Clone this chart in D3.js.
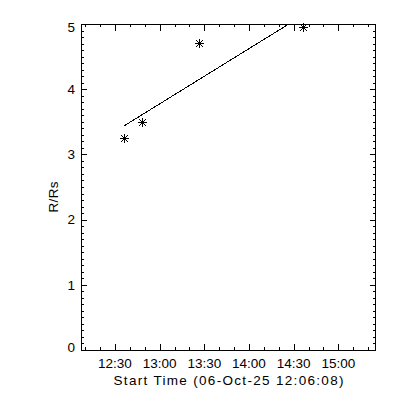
<!DOCTYPE html>
<html><head><meta charset="utf-8">
<script src="https://cdn.jsdelivr.net/npm/d3@7"></script>
<style>body{margin:0;background:#fff}svg{display:block}text{font-family:"Liberation Sans",Arial,sans-serif;fill:#000}</style>
</head><body><svg id="c" width="400" height="400"></svg>
<script>
// Data
const obsTimes = ["2025-10-06 12:36:15","2025-10-06 12:48:24","2025-10-06 13:26:42","2025-10-06 14:36:00"];
const obsR = [3.25, 3.50, 4.71, 4.95];
const fitTimes = ["2025-10-06 12:36:15","2025-10-06 14:36:00"];
const fitR = [3.44, 5.13];
const xDomain = ["2025-10-06 12:07:10","2025-10-06 15:25:20"];
const xTickLabels = ["12:30","13:00","13:30","14:00","14:30","15:00"];
const yTicks = [0,1,2,3,4,5];
const xTitle = "Start Time (06-Oct-25 12:06:08)";
const yTitle = "R/Rs";

const parse = d3.timeParse("%Y-%m-%d %H:%M:%S");
const svg = d3.select("#c");
const L=81,R=376,T=24,B=350;
const x = d3.scaleTime().domain(xDomain.map(parse)).range([L,R]);
const y = d3.scaleLinear().domain([0,5]).range([B,T]);

const g = svg.append("g");
g.append("rect").attr("x",L+0.5).attr("y",T+0.5).attr("width",R-L-1).attr("height",B-T)
 .attr("fill","none").attr("stroke","#000").attr("shape-rendering","crispEdges");

const majX = xTickLabels.map(s=>parse("2025-10-06 "+s+":00"));
const minX = d3.timeMinute.every(10).range(x.domain()[0], x.domain()[1]);
const ticks = g.append("g").attr("stroke","#000").attr("shape-rendering","crispEdges");
const xl=6.5, yl=6;
minX.forEach(t=>{const px=Math.round(x(t))+0.5;
  ticks.append("line").attr("x1",px).attr("x2",px).attr("y1",B).attr("y2",B-xl/2);
  ticks.append("line").attr("x1",px).attr("x2",px).attr("y1",T).attr("y2",T+xl/2);});
majX.forEach(t=>{const px=Math.round(x(t))+0.5;
  ticks.append("line").attr("x1",px).attr("x2",px).attr("y1",B).attr("y2",B-xl);
  ticks.append("line").attr("x1",px).attr("x2",px).attr("y1",T).attr("y2",T+xl);});
d3.range(0,50).map(i=>i/10).forEach(v=>{const py=Math.round(y(v))+0.5;const len=(Math.abs(v-Math.round(v))<1e-6)?yl:yl/2;
  ticks.append("line").attr("x1",L).attr("x2",L+len).attr("y1",py).attr("y2",py);
  ticks.append("line").attr("x1",R).attr("x2",R-len).attr("y1",py).attr("y2",py);});

g.selectAll(".xt").data(majX).enter().append("text").attr("x",d=>x(d)).attr("y",368)
 .attr("text-anchor","middle").attr("font-size",13.5).text((d,i)=>xTickLabels[i]);
g.selectAll(".yt").data(yTicks).enter().append("text").attr("x",75)
 .attr("y",d=>Math.min(Math.max(y(d),27),347)).attr("dy","0.36em")
 .attr("text-anchor","end").attr("font-size",13.5).text(d=>d);
g.append("text").attr("x",(L+R)/2).attr("y",385).attr("text-anchor","middle").attr("font-size",13.5)
 .attr("textLength",230).attr("lengthAdjust","spacing").text(xTitle);
g.append("text").attr("transform","translate(58,197) rotate(-90)").attr("text-anchor","middle").attr("font-size",13.5)
 .attr("textLength",31).attr("lengthAdjust","spacing").text(yTitle);

svg.append("clipPath").attr("id","clip").append("rect").attr("x",L).attr("y",T).attr("width",R-L).attr("height",B-T);
const fit = fitTimes.map((t,i)=>[parse(t),fitR[i]]);
g.append("path").datum(fit).attr("clip-path","url(#clip)")
 .attr("d",d3.line().x(d=>x(d[0])).y(d=>y(d[1])))
 .attr("fill","none").attr("stroke","#000").attr("stroke-width",1).attr("shape-rendering","crispEdges");

const s=4.2;
const star = `M${-s},0H${s}M0,${-s}V${s}M${-s*0.75},${-s*0.75}L${s*0.75},${s*0.75}M${-s*0.75},${s*0.75}L${s*0.75},${-s*0.75}`;
g.selectAll(".pt").data(obsTimes.map((t,i)=>[parse(t),obsR[i]])).enter().append("path")
 .attr("transform",d=>`translate(${Math.round(x(d[0]))+0.5},${Math.round(y(d[1]))+0.5})`)
 .attr("d",star).attr("stroke","#000").attr("stroke-width",1).attr("fill","none").attr("shape-rendering","crispEdges");
</script></body></html>
